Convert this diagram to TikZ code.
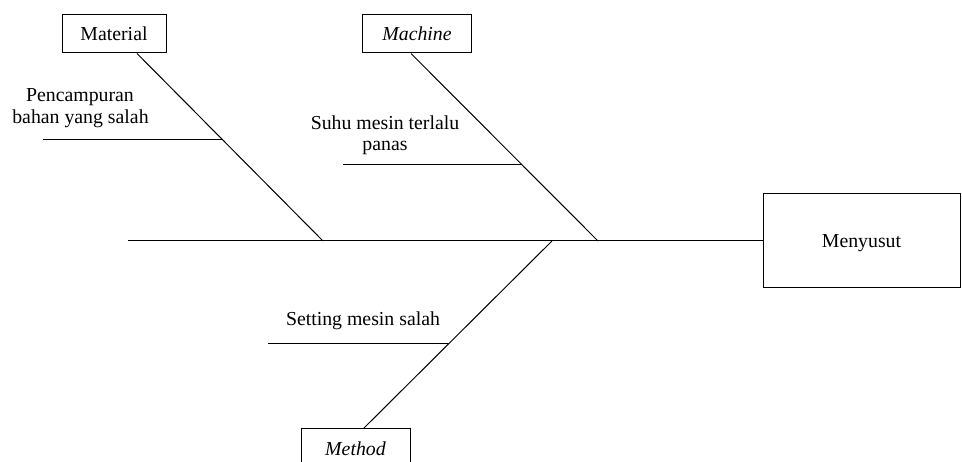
\documentclass[tikz,border=0pt]{standalone}
\usepackage{fontspec}
\setmainfont{Liberation Serif}
\usetikzlibrary{calc}
\begin{document}
\begin{tikzpicture}[x=1pt,y=-1pt,line width=1pt,
  box/.style={draw,line width=1pt,inner sep=0pt,font=\fontsize{19.8}{23}\selectfont},
  lbl/.style={inner sep=0pt,anchor=base,font=\fontsize{19.8}{23}\selectfont}]
\useasboundingbox (0,0) rectangle (962,462);
% boxes
\node[box,minimum width=104pt,minimum height=38pt] (mat) at (114,34) {Material};
\node[box,minimum width=109pt,minimum height=38pt] (mac) at (417,34) {\textit{Machine}};
\node[box,minimum width=197pt,minimum height=94pt,text depth=0pt] (eff) at (861.5,241) {Menyusut};
\node[box,minimum width=109pt,minimum height=40pt] (met) at (355.5,449) {\textit{Method}};
% spine
\coordinate (tail) at (128,241);
\coordinate (jm) at (323,241);
\coordinate (jc) at (598,241);
\coordinate (jt) at (552,241);
\draw (tail) -- (eff.west);
% main bones
\draw ($(mat.south)+(23,0)$) -- (jm);
\draw ($(mac.south)+(-6,0)$) -- (jc);
\draw ($(met.north)+(8,0)$) -- (jt);
% sub bones
\coordinate (m1) at (223,140);
\coordinate (m1e) at (43,140);
\draw (m1e) -- (m1);
\coordinate (c1) at (522.4,165);
\coordinate (c1e) at (343,165);
\draw (c1e) -- (c1);
\coordinate (t1) at (448.4,344);
\coordinate (t1e) at (268,344);
\draw (t1e) -- (t1);
% labels
\node[lbl] (pc1) at (80,102) {Pencampuran};
\node[lbl] (pc2) at (80.5,123.5) {bahan yang salah};
\node[lbl] (sh1) at (385,129.5) {Suhu mesin terlalu};
\node[lbl] (sh2) at (385,150.5) {panas};
\node[lbl] (st1) at (363,326) {Setting mesin salah};
\end{tikzpicture}
\end{document}
